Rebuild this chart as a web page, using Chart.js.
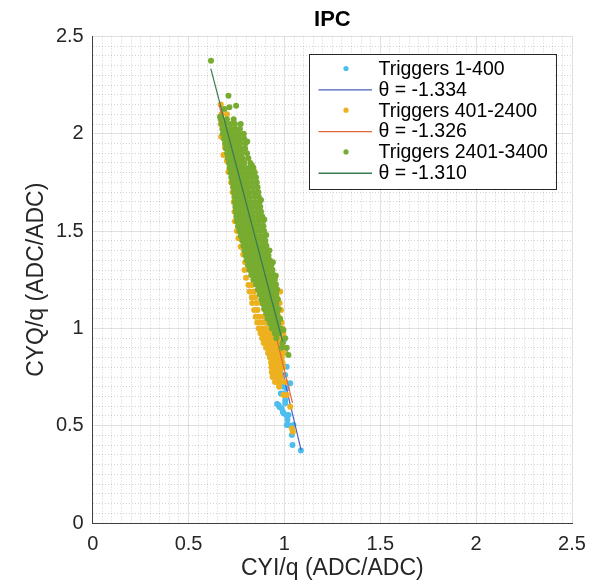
<!DOCTYPE html>
<html>
<head>
<meta charset="utf-8">
<script src="https://cdn.jsdelivr.net/npm/chart.js@4/dist/chart.umd.min.js"></script>
<style>
  html, body { margin:0; padding:0; background:#fff; }
</style>
</head>
<body>
<canvas id="c" width="597" height="582"></canvas>
<script>
// ── Data ───────────────────────────────────────────────────────

const majorTicks = [0, 0.5, 1, 1.5, 2, 2.5];
const tickLabels = ['0', '0.5', '1', '1.5', '2', '2.5'];

const seriesLabels = ['Triggers 1-400', 'Triggers 401-2400', 'Triggers 2401-3400'];
const thetas       = [-1.334, -1.326, -1.310];

// fit lines: [x, y] end points
const blueFit   = [[0.700, 1.978], [1.087, 0.375]];
const orangeFit = [[0.660, 2.146], [1.042, 0.617]];
const greenFit  = [[0.616, 2.335], [0.990, 0.934]];

// Triggers 1-400: [x, y]
const bluePts = [
  [0.740,1.80],[0.780,1.65],[0.800,1.55],[0.812,1.33],[0.850,1.30],[0.880,1.20],[0.900,1.10],
  [0.905,1.00],[0.925,0.95],[0.995,0.932],[1.004,0.880],[0.917,0.872],[0.934,0.846],[0.951,0.821],
  [1.012,0.803],[0.969,0.795],[0.960,0.752],[1.004,0.761],[1.030,0.718],[0.995,0.700],[1.012,0.692],
  [0.981,0.666],[0.995,0.666],[1.004,0.632],[1.004,0.615],[0.969,0.606],[0.974,0.596],[0.992,0.572],
  [0.995,0.564],[1.009,0.555],[1.021,0.555],[1.012,0.504],[1.021,0.504],[1.047,0.504],[1.039,0.452],
  [1.042,0.401],[1.086,0.372],[0.962,0.612],[0.985,0.590],[1.016,0.530]
];

// Triggers 401-2400: rows of [y, x, x, ...]
const orangeRows = [
  [2.150, 0.668],
  [2.100, 0.672, 0.700],
  [2.050, 0.668, 0.735],
  [1.985, 0.670, 0.720, 0.770],
  [1.930, 0.690, 0.740],
  [1.891, 0.682, 0.760],
  [1.860, 0.700, 0.790],
  [1.805, 0.708, 0.760, 0.844],
  [1.750, 0.722, 0.790],
  [1.700, 0.730, 0.810, 0.860],
  [1.650, 0.735, 0.800],
  [1.600, 0.740, 0.820, 0.875],
  [1.550, 0.742, 0.800, 0.860],
  [1.500, 0.752, 0.830],
  [1.463, 0.760, 0.800, 0.870],
  [1.420, 0.772, 0.840],
  [1.380, 0.785, 0.850, 0.905],
  [1.340, 0.795, 0.860],
  [1.300, 0.792, 0.830, 0.880, 0.935],
  [1.260, 0.800, 0.840, 0.900, 0.945],
  [1.223, 0.812, 0.830, 0.870, 0.920],
  [1.190, 0.818, 0.842, 0.880, 0.940, 0.978],
  [1.160, 0.830, 0.848, 0.900, 0.960],
  [1.130, 0.832, 0.855, 0.880, 0.930, 0.975],
  [1.095, 0.842, 0.860, 0.900, 0.950, 0.982],
  [1.060, 0.850, 0.868, 0.890, 0.930, 0.970],
  [1.030, 0.858, 0.876, 0.898, 0.920, 0.955, 0.985],
  [1.000, 0.866, 0.884, 0.904, 0.926, 0.950, 0.975, 0.990],
  [0.975, 0.875, 0.892, 0.912, 0.932, 0.955, 0.978, 0.994],
  [0.950, 0.884, 0.900, 0.920, 0.940, 0.960, 0.982],
  [0.925, 0.892, 0.910, 0.928, 0.948, 0.968, 0.990],
  [0.900, 0.904, 0.920, 0.938, 0.956, 0.975, 0.998],
  [0.875, 0.915, 0.930, 0.946, 0.963, 0.982, 1.000],
  [0.850, 0.924, 0.938, 0.952, 0.968, 0.986],
  [0.825, 0.930, 0.944, 0.958, 0.972, 0.990],
  [0.800, 0.932, 0.946, 0.960, 0.976, 0.993],
  [0.775, 0.934, 0.948, 0.962, 0.978],
  [0.750, 0.938, 0.952, 0.966, 0.982],
  [0.725, 0.951, 0.962, 0.978, 1.004],
  [0.700, 0.972],
  [0.658, 0.995, 1.012],
  [0.598, 1.030],
  [0.486, 1.039],
  [0.469, 1.044]
];

// Triggers 2401-3400: rows of [y, x, x, ...]
const greenRows = [
  [2.376, 0.617],
  [2.196, 0.708],
  [2.144, 0.748],
  [2.136, 0.713],
  [2.127, 0.687],
  [2.088, 0.664],
  [2.075, 0.668, 0.700, 0.735],
  [2.050, 0.672, 0.692, 0.716, 0.742, 0.772],
  [2.025, 0.676, 0.698, 0.721, 0.745, 0.768],
  [2.000, 0.679, 0.700, 0.720, 0.742, 0.763, 0.788],
  [1.975, 0.684, 0.705, 0.725, 0.746, 0.767, 0.790],
  [1.960, 0.806],
  [1.950, 0.690, 0.708, 0.728, 0.749, 0.770, 0.797],
  [1.925, 0.695, 0.714, 0.733, 0.752, 0.772, 0.795],
  [1.900, 0.701, 0.720, 0.739, 0.758, 0.778, 0.805],
  [1.875, 0.705, 0.724, 0.744, 0.763, 0.783, 0.812],
  [1.850, 0.710, 0.728, 0.748, 0.768, 0.790, 0.822],
  [1.840, 0.830],
  [1.825, 0.714, 0.733, 0.752, 0.772, 0.795, 0.818, 0.838],
  [1.800, 0.718, 0.737, 0.757, 0.777, 0.800, 0.822, 0.845],
  [1.775, 0.723, 0.742, 0.762, 0.782, 0.804, 0.828, 0.852],
  [1.750, 0.728, 0.747, 0.766, 0.786, 0.808, 0.832, 0.856],
  [1.725, 0.732, 0.751, 0.770, 0.790, 0.812, 0.836, 0.860],
  [1.700, 0.736, 0.755, 0.774, 0.794, 0.816, 0.840, 0.864],
  [1.675, 0.739, 0.758, 0.778, 0.798, 0.820, 0.844, 0.867],
  [1.660, 0.878],
  [1.650, 0.741, 0.761, 0.781, 0.802, 0.824, 0.848, 0.870],
  [1.625, 0.744, 0.764, 0.785, 0.806, 0.828, 0.852, 0.874],
  [1.600, 0.746, 0.767, 0.788, 0.810, 0.833, 0.857, 0.878],
  [1.575, 0.749, 0.770, 0.792, 0.814, 0.837, 0.861, 0.884],
  [1.560, 0.895],
  [1.550, 0.752, 0.774, 0.796, 0.818, 0.841, 0.865, 0.888],
  [1.525, 0.758, 0.779, 0.800, 0.822, 0.845, 0.869, 0.891],
  [1.500, 0.765, 0.785, 0.805, 0.826, 0.849, 0.872, 0.894],
  [1.480, 0.905],
  [1.475, 0.772, 0.792, 0.811, 0.831, 0.853, 0.876, 0.897],
  [1.450, 0.780, 0.799, 0.818, 0.837, 0.858, 0.880, 0.901],
  [1.425, 0.786, 0.804, 0.823, 0.842, 0.863, 0.885, 0.906],
  [1.400, 0.791, 0.809, 0.828, 0.847, 0.868, 0.890, 0.911, 0.922],
  [1.375, 0.797, 0.815, 0.834, 0.853, 0.874, 0.896, 0.917],
  [1.350, 0.803, 0.821, 0.840, 0.860, 0.881, 0.902, 0.924],
  [1.340, 0.940],
  [1.325, 0.810, 0.828, 0.847, 0.867, 0.888, 0.909, 0.931],
  [1.300, 0.818, 0.836, 0.855, 0.874, 0.895, 0.916, 0.938],
  [1.275, 0.827, 0.845, 0.863, 0.882, 0.902, 0.922, 0.944],
  [1.270, 0.955],
  [1.250, 0.838, 0.855, 0.872, 0.890, 0.909, 0.929, 0.950],
  [1.225, 0.852, 0.870, 0.888, 0.905, 0.922, 0.941, 0.956],
  [1.200, 0.862, 0.880, 0.898, 0.914, 0.931, 0.948, 0.962],
  [1.175, 0.872, 0.890, 0.908, 0.925, 0.940, 0.957],
  [1.150, 0.880, 0.899, 0.916, 0.933, 0.950, 0.966],
  [1.125, 0.888, 0.908, 0.924, 0.940, 0.958],
  [1.100, 0.894, 0.915, 0.933, 0.950, 0.970],
  [1.075, 0.905, 0.925, 0.944, 0.962],
  [1.050, 0.912, 0.935, 0.955, 0.978],
  [1.025, 0.925, 0.948, 0.968],
  [1.000, 0.935, 0.958, 0.981],
  [0.992, 0.995],
  [0.975, 0.950, 0.972],
  [0.950, 0.958, 1.004],
  [0.925, 0.990],
  [0.901, 0.985, 1.012],
  [0.863, 1.021]
];

// ── Helpers ────────────────────────────────────────────────────

const toPts  = rows => rows.flatMap(([y, ...xs]) => xs.map(x => ({ x, y })));
const toXY   = arr  => arr.map(([x, y]) => ({ x, y }));
const isMajor = v => majorTicks.some(t => Math.abs(t - v) < 1e-6);
const majorLabel = v => { const i = majorTicks.findIndex(t => Math.abs(t - v) < 1e-6); return i < 0 ? '' : tickLabels[i]; };

const FONT = "'Liberation Sans', Arial, Helvetica, sans-serif";
const C = {
  blue:'#4DBEEE', orange:'#EDB120', green:'#77AC30',
  blueLn:'#4a5fc0', orangeLn:'#e8653a', greenLn:'#3b7a52',
  major:'rgba(0,0,0,0.12)', minor:'rgba(0,0,0,0.17)', axis:'#404040', text:'#262626'
};

Chart.defaults.font.family = FONT;
Chart.defaults.color = C.text;

const ptDs = (label, data, color, order) => ({
  type:'scatter', label, data, order,
  backgroundColor:color, borderWidth:0, pointRadius:3, pointHoverRadius:3
});
const lnDs = (label, data, color, order) => ({
  type:'line', label, data, order,
  borderColor:color, borderWidth:1.2, pointRadius:0, fill:false, tension:0
});

const datasets = [
  ptDs(seriesLabels[0], toXY(bluePts), C.blue, 6),
  lnDs('θ = ' + thetas[0].toFixed(3), toXY(blueFit), C.blueLn, 5),
  ptDs(seriesLabels[1], toPts(orangeRows), C.orange, 4),
  lnDs('θ = ' + thetas[1].toFixed(3), toXY(orangeFit), C.orangeLn, 3),
  ptDs(seriesLabels[2], toPts(greenRows), C.green, 2),
  lnDs('θ = ' + thetas[2].toFixed(3), toXY(greenFit), C.greenLn, 1),
];

// ── Title + boxed legend inside the axes ───────────────────────

const matlabDecor = {
  id:'matlabDecor',
  afterDraw(chart) {
    const { ctx, chartArea:a } = chart;
    ctx.save();
    // title
    ctx.fillStyle = '#000';
    ctx.font = `bold 22px ${FONT}`;
    ctx.textAlign = 'center';
    ctx.textBaseline = 'middle';
    ctx.fillText('IPC', (a.left + a.right) / 2, 20);

    // legend box
    const bx = a.right - 263.5, by = a.top + 17, bw = 246.5, bh = 135;
    ctx.fillStyle = '#fff';
    ctx.fillRect(bx, by, bw, bh);
    ctx.strokeStyle = '#262626';
    ctx.lineWidth = 1;
    ctx.strokeRect(Math.round(bx) + 0.5, Math.round(by) + 0.5, Math.round(bw), Math.round(bh));

    ctx.font = `19.5px ${FONT}`;
    ctx.textAlign = 'left';
    chart.data.datasets.forEach((ds, i) => {
      const y = by + 15 + i * 20.85;
      if (ds.type === 'scatter') {
        ctx.fillStyle = ds.backgroundColor;
        ctx.beginPath();
        ctx.arc(bx + 37.5, y, 2.6, 0, Math.PI * 2);
        ctx.fill();
      } else {
        ctx.strokeStyle = ds.borderColor;
        ctx.lineWidth = 1.3;
        ctx.beginPath();
        ctx.moveTo(bx + 10, y + 0.5);
        ctx.lineTo(bx + 63.5, y + 0.5);
        ctx.stroke();
      }
      ctx.fillStyle = '#000';
      ctx.fillText(ds.label, bx + 70, y + 1);
    });
    ctx.restore();
  }
};

// ── Chart ──────────────────────────────────────────────────────

const gridOpts = {
  drawTicks:false,
  color: c => (c.tick && isMajor(c.tick.value)) ? C.major : C.minor,
  lineWidth:1
};
const borderOpts = {
  color:C.axis, width:1,
  dash: c => (c.tick && !isMajor(c.tick.value)) ? [1, 2] : []
};
const tickOpts = {
  stepSize:0.05, autoSkip:false, maxRotation:0, padding:9,
  font:{ size:20 }, color:C.text,
  callback: v => majorLabel(v)
};

new Chart(document.getElementById('c').getContext('2d'), {
  data:{ datasets },
  options:{
    responsive:false, animation:false,
    layout:{ padding:{ top:36.5, right:25, left:0, bottom:0 } },
    plugins:{ legend:{ display:false }, tooltip:{ enabled:false }, title:{ display:false } },
    scales:{
      x:{
        type:'linear', min:0, max:2.5,
        grid:gridOpts, border:borderOpts, ticks:tickOpts,
        title:{ display:true, text:'CYI/q (ADC/ADC)', font:{ size:23 }, color:C.text, padding:{ top:0, bottom:0 } },
        afterFit: s => { s.height = 59; }
      },
      y:{
        type:'linear', min:0, max:2.5,
        grid:gridOpts, border:borderOpts, ticks:tickOpts,
        title:{ display:true, text:'CYQ/q (ADC/ADC)', font:{ size:23 }, color:C.text, padding:{ top:23, bottom:0 } },
        afterFit: s => { s.width = 92.7; }
      }
    }
  },
  plugins:[matlabDecor]
});
</script>
</body>
</html>
